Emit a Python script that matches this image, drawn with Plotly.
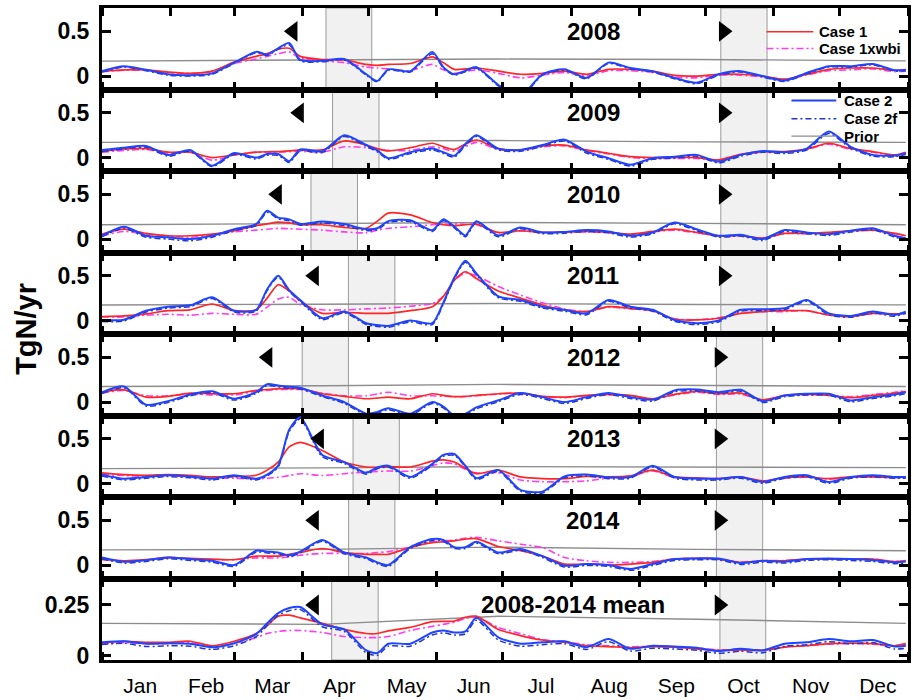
import pandas as pd
import plotly.graph_objects as go
from plotly.subplots import make_subplots

# ---------------- data ----------------
DAYS = [0, 10, 20, 30, 40, 50, 60, 70, 75, 80, 85, 90, 100, 110, 120, 125,
        130, 140, 150, 155, 160, 165, 170, 180, 190, 200, 210, 220, 230, 240,
        250, 260, 270, 280, 290, 300, 310, 320, 330, 340, 350, 360, 365]
PRIOR_DAYS = [0, 100, 180, 270, 365]
PANEL_LABELS = ["2008", "2009", "2010", "2011", "2012", "2013", "2014", "2008-2014 mean"]

CASE1 = [
    [0.055, 0.07, 0.07, 0.045, 0.03, 0.055, 0.155, 0.22, 0.25, 0.30, 0.31, 0.22, 0.185, 0.18, 0.13, 0.12,
     0.13, 0.14, 0.215, 0.15, 0.075, 0.08, 0.09, 0.055, 0.02, 0.03, 0.055, 0.02, 0.075, 0.075,
     0.055, 0.007, 0.0, 0.02, 0.02, 0.0, -0.035, 0.02, 0.075, 0.09, 0.09, 0.065, 0.07],
    [0.067, 0.096, 0.1, 0.06, 0.06, 0.0, 0.03, 0.06, 0.065, 0.067, 0.075, 0.085, 0.085, 0.185, 0.14, 0.1,
     0.074, 0.11, 0.16, 0.12, 0.09, 0.15, 0.196, 0.1, 0.085, 0.13, 0.14, 0.085, 0.048, 0.01,
     0.0, 0.0, 0.0, -0.026, 0.037, 0.067, 0.067, 0.096, 0.16, 0.1, 0.067, 0.03, 0.06],
    [0.055, 0.11, 0.063, 0.037, 0.037, 0.055, 0.093, 0.15, 0.17, 0.19, 0.18, 0.16, 0.16, 0.13, 0.12, 0.2,
     0.29, 0.27, 0.185, 0.16, 0.15, 0.16, 0.167, 0.074, 0.093, 0.074, 0.08, 0.085, 0.074, 0.055,
     0.085, 0.11, 0.074, 0.037, 0.037, 0.01, 0.063, 0.063, 0.074, 0.093, 0.1, 0.063, 0.037],
    [0.044, 0.052, 0.074, 0.11, 0.12, 0.185, 0.11, 0.12, 0.25, 0.40, 0.33, 0.22, 0.08, 0.093, 0.08, 0.08,
     0.08, 0.11, 0.155, 0.27, 0.45, 0.545, 0.47, 0.33, 0.25, 0.174, 0.12, 0.1, 0.155, 0.137,
     0.11, 0.015, 0.007, 0.026, 0.08, 0.1, 0.11, 0.11, 0.063, 0.044, 0.08, 0.074, 0.08],
    [0.11, 0.137, 0.055, 0.063, 0.1, 0.093, 0.093, 0.13, 0.14, 0.15, 0.15, 0.15, 0.093, 0.063, 0.037, 0.045,
     0.055, 0.037, 0.093, 0.075, 0.06, 0.065, 0.074, 0.093, 0.1, 0.063, 0.055, 0.074, 0.085, 0.074,
     0.037, 0.085, 0.12, 0.093, 0.1, 0.026, 0.074, 0.085, 0.074, 0.048, 0.074, 0.1, 0.12],
    [0.12, 0.1, 0.093, 0.1, 0.093, 0.074, 0.08, 0.093, 0.15, 0.24, 0.41, 0.46, 0.37, 0.24, 0.185, 0.18,
     0.19, 0.185, 0.25, 0.265, 0.24, 0.17, 0.11, 0.15, 0.074, 0.055, 0.055, 0.08, 0.074, 0.085,
     0.15, 0.074, 0.063, 0.055, 0.074, 0.03, 0.067, 0.074, 0.055, 0.074, 0.074, 0.067, 0.074],
    [0.067, 0.048, 0.06, 0.085, 0.074, 0.067, 0.06, 0.1, 0.1, 0.1, 0.12, 0.14, 0.185, 0.14, 0.12, 0.12,
     0.12, 0.196, 0.25, 0.26, 0.27, 0.29, 0.296, 0.207, 0.16, 0.1, 0.011, 0.011, 0.0, 0.011,
     0.03, 0.067, 0.074, 0.067, 0.03, 0.048, 0.048, 0.067, 0.067, 0.067, 0.067, 0.037, 0.05],
    [0.0625, 0.072, 0.067, 0.067, 0.072, 0.05, 0.072, 0.11, 0.15, 0.195, 0.2, 0.187, 0.16, 0.13, 0.11, 0.11,
     0.123, 0.14, 0.168, 0.17, 0.171, 0.19, 0.195, 0.13, 0.1, 0.078, 0.067, 0.05, 0.046, 0.04,
     0.046, 0.043, 0.035, 0.027, 0.03, 0.027, 0.043, 0.05, 0.06, 0.0625, 0.06, 0.05, 0.06],
]

CASE1XWBI = [
    [0.05, 0.065, 0.065, 0.04, 0.03, 0.05, 0.14, 0.19, 0.22, 0.25, 0.27, 0.2, 0.17, 0.15, 0.1, 0.09,
     0.08, 0.06, 0.13, 0.07, 0.03, 0.05, 0.07, 0.03, -0.02, 0.01, 0.04, 0.0, 0.06, 0.06,
     0.04, -0.01, -0.02, 0.01, 0.01, -0.01, -0.04, 0.01, 0.06, 0.07, 0.08, 0.05, 0.055],
    [0.06, 0.08, 0.09, 0.05, 0.06, -0.03, 0.03, 0.06, 0.06, 0.06, 0.065, 0.07, 0.06, 0.12, 0.11, 0.09,
     0.08, 0.08, 0.12, 0.1, 0.07, 0.12, 0.17, 0.09, 0.08, 0.12, 0.13, 0.08, 0.04, 0.0,
     -0.01, -0.01, -0.01, -0.035, 0.03, 0.06, 0.06, 0.09, 0.15, 0.09, 0.06, 0.02, 0.05],
    [0.037, 0.085, 0.055, 0.037, 0.02, 0.045, 0.08, 0.1, 0.11, 0.12, 0.115, 0.11, 0.1, 0.08, 0.07, 0.1,
     0.12, 0.137, 0.16, 0.165, 0.17, 0.165, 0.16, 0.07, 0.09, 0.07, 0.075, 0.08, 0.07, 0.05,
     0.08, 0.1, 0.07, 0.035, 0.035, 0.01, 0.06, 0.06, 0.07, 0.09, 0.095, 0.06, 0.035],
    [0.04, 0.04, 0.06, 0.07, 0.06, 0.08, 0.07, 0.07, 0.15, 0.24, 0.26, 0.18, 0.12, 0.12, 0.13, 0.135,
     0.14, 0.16, 0.19, 0.27, 0.45, 0.53, 0.5, 0.38, 0.285, 0.2, 0.13, 0.1, 0.15, 0.13,
     0.11, 0.02, 0.01, 0.03, 0.08, 0.1, 0.1, 0.11, 0.06, 0.045, 0.08, 0.07, 0.08],
    [0.1, 0.13, 0.07, 0.07, 0.09, 0.08, 0.08, 0.12, 0.13, 0.14, 0.14, 0.14, 0.1, 0.07, 0.07, 0.09,
     0.11, 0.07, 0.07, 0.065, 0.06, 0.06, 0.07, 0.09, 0.1, 0.06, 0.05, 0.07, 0.08, 0.07,
     0.03, 0.08, 0.11, 0.085, 0.09, 0.02, 0.07, 0.08, 0.075, 0.06, 0.085, 0.11, 0.13],
    [0.1, 0.09, 0.08, 0.09, 0.07, 0.06, 0.06, 0.05, 0.06, 0.07, 0.09, 0.11, 0.09, 0.11, 0.13, 0.135,
     0.14, 0.14, 0.2, 0.23, 0.22, 0.16, 0.12, 0.12, 0.04, 0.02, 0.02, 0.03, 0.06, 0.08,
     0.14, 0.07, 0.06, 0.05, 0.07, 0.025, 0.06, 0.07, 0.05, 0.07, 0.07, 0.065, 0.07],
    [0.06, 0.045, 0.055, 0.08, 0.07, 0.06, 0.06, 0.08, 0.08, 0.08, 0.09, 0.11, 0.13, 0.13, 0.13, 0.14,
     0.15, 0.2, 0.26, 0.27, 0.28, 0.3, 0.31, 0.27, 0.233, 0.196, 0.085, 0.048, 0.03, 0.03,
     0.04, 0.067, 0.074, 0.067, 0.035, 0.05, 0.05, 0.067, 0.07, 0.067, 0.067, 0.04, 0.05],
    [0.06, 0.065, 0.06, 0.06, 0.065, 0.045, 0.062, 0.09, 0.11, 0.12, 0.125, 0.125, 0.115, 0.095, 0.09, 0.09,
     0.095, 0.125, 0.145, 0.155, 0.165, 0.185, 0.19, 0.14, 0.11, 0.08, 0.07, 0.055, 0.05, 0.045,
     0.048, 0.045, 0.038, 0.03, 0.032, 0.03, 0.045, 0.05, 0.058, 0.06, 0.058, 0.05, 0.058],
]

CASE2 = [
    [0.055, 0.11, 0.07, 0.02, 0.01, 0.03, 0.15, 0.27, 0.24, 0.31, 0.37, 0.18, 0.17, 0.19, 0.02, -0.055,
     0.075, 0.055, 0.27, 0.1, 0.02, 0.06, 0.1, -0.1, -0.22, 0.02, 0.075, -0.02, 0.15, 0.09,
     0.055, -0.02, -0.075, 0.02, 0.055, 0.0, -0.05, 0.035, 0.11, 0.11, 0.135, 0.065, 0.07],
    [0.085, 0.11, 0.13, 0.03, 0.085, -0.09, 0.05, 0.0, 0.04, 0.04, -0.04, 0.09, 0.07, 0.25, 0.14, 0.08,
     -0.007, 0.06, 0.1, 0.06, 0.02, 0.15, 0.25, 0.1, 0.085, 0.14, 0.2, 0.067, -0.007, -0.08,
     -0.007, 0.01, 0.03, -0.045, 0.03, 0.074, 0.06, 0.1, 0.29, 0.12, 0.03, 0.022, 0.05],
    [0.037, 0.137, 0.037, 0.02, 0.0, 0.037, 0.11, 0.167, 0.315, 0.24, 0.22, 0.17, 0.196, 0.167, 0.11, 0.12,
     0.2, 0.21, 0.1, 0.22, 0.14, 0.04, 0.2, 0.04, 0.13, 0.074, 0.08, 0.1, 0.085, 0.037,
     0.074, 0.185, 0.11, 0.037, 0.048, 0.0, 0.1, 0.074, 0.055, 0.093, 0.12, 0.037, 0.01],
    [0.007, 0.01, 0.11, 0.155, 0.17, 0.26, 0.11, 0.12, 0.35, 0.5, 0.34, 0.23, 0.026, 0.1, -0.03, -0.05,
     -0.06, 0.0, -0.03, 0.2, 0.48, 0.667, 0.526, 0.27, 0.23, 0.155, 0.12, 0.08, 0.23, 0.155,
     0.12, 0.007, -0.03, 0.0, 0.12, 0.126, 0.137, 0.23, 0.08, 0.052, 0.1, 0.063, 0.1],
    [0.11, 0.174, -0.03, 0.01, 0.085, 0.12, 0.037, 0.11, 0.2, 0.185, 0.17, 0.16, 0.074, 0.0, -0.13, -0.11,
     -0.07, -0.13, 0.0, -0.05, -0.15, -0.13, -0.06, 0.02, 0.1, 0.055, 0.0, 0.055, 0.1, 0.055,
     0.026, 0.13, 0.14, 0.11, 0.137, 0.01, 0.074, 0.093, 0.093, 0.018, 0.055, 0.085, 0.11],
    [0.1, 0.055, 0.074, 0.093, 0.08, 0.055, 0.093, 0.055, 0.1, 0.2, 0.6, 0.74, 0.32, 0.24, 0.12, 0.18,
     0.2, 0.074, 0.22, 0.32, 0.33, 0.2, 0.06, 0.15, -0.07, -0.09, 0.08, 0.1, 0.07, 0.074,
     0.2, 0.074, 0.055, 0.055, 0.074, 0.018, 0.074, 0.093, 0.018, 0.074, 0.093, 0.074, 0.074],
    [0.085, 0.037, 0.055, 0.085, 0.067, 0.048, 0.0, 0.16, 0.15, 0.14, 0.11, 0.15, 0.28, 0.14, 0.085, 0.03,
     0.0, 0.2, 0.29, 0.28, 0.2, 0.2, 0.26, 0.14, 0.18, 0.1, -0.007, 0.011, 0.0, -0.044,
     0.011, 0.067, 0.074, 0.074, 0.022, 0.048, 0.037, 0.067, 0.074, 0.067, 0.055, 0.03, 0.04],
    [0.067, 0.072, 0.06, 0.0625, 0.06, 0.043, 0.0625, 0.107, 0.16, 0.21, 0.235, 0.24, 0.155, 0.13, 0.027, 0.014,
     0.06, 0.06, 0.115, 0.125, 0.115, 0.12, 0.187, 0.091, 0.06, 0.067, 0.072, 0.043, 0.083, 0.035,
     0.05, 0.046, 0.04, 0.024, 0.035, 0.027, 0.06, 0.067, 0.083, 0.072, 0.078, 0.046, 0.05],
]

CASE2F = [
    [0.045, 0.1, 0.06, 0.01, 0.0, 0.02, 0.14, 0.26, 0.23, 0.3, 0.35, 0.17, 0.16, 0.18, 0.01, -0.065,
     0.065, 0.045, 0.25, 0.09, 0.01, 0.05, 0.09, -0.11, -0.23, 0.01, 0.065, -0.03, 0.14, 0.08,
     0.045, -0.03, -0.085, 0.01, 0.045, -0.01, -0.06, 0.025, 0.1, 0.1, 0.125, 0.055, 0.06],
    [0.07, 0.095, 0.115, 0.015, 0.07, -0.1, 0.035, -0.015, 0.025, 0.025, -0.055, 0.075, 0.055, 0.235, 0.125, 0.065,
     -0.02, 0.045, 0.085, 0.045, 0.005, 0.135, 0.235, 0.085, 0.07, 0.125, 0.185, 0.05, -0.02, -0.095,
     -0.02, -0.005, 0.015, -0.06, 0.015, 0.06, 0.045, 0.085, 0.27, 0.105, 0.015, 0.01, 0.035],
    [0.025, 0.12, 0.02, 0.0, -0.02, 0.02, 0.095, 0.15, 0.3, 0.225, 0.205, 0.155, 0.18, 0.15, 0.095, 0.105,
     0.185, 0.195, 0.085, 0.205, 0.125, 0.025, 0.185, 0.025, 0.115, 0.06, 0.065, 0.085, 0.07, 0.022,
     0.06, 0.17, 0.095, 0.022, 0.033, -0.015, 0.085, 0.06, 0.04, 0.078, 0.105, 0.022, -0.005],
    [-0.01, -0.005, 0.095, 0.14, 0.155, 0.245, 0.095, 0.105, 0.335, 0.485, 0.325, 0.215, 0.01, 0.085, -0.045, -0.065,
     -0.075, -0.015, -0.045, 0.185, 0.465, 0.65, 0.51, 0.255, 0.215, 0.14, 0.105, 0.065, 0.215, 0.14,
     0.105, -0.008, -0.045, -0.015, 0.105, 0.11, 0.122, 0.215, 0.065, 0.037, 0.085, 0.048, 0.085],
    [0.095, 0.16, -0.045, -0.005, 0.07, 0.105, 0.022, 0.095, 0.185, 0.17, 0.155, 0.145, 0.06, -0.015, -0.145, -0.125,
     -0.085, -0.145, -0.015, -0.065, -0.165, -0.145, -0.075, 0.005, 0.085, 0.04, -0.015, 0.04, 0.085, 0.04,
     0.011, 0.115, 0.125, 0.095, 0.122, -0.005, 0.06, 0.078, 0.078, 0.003, 0.04, 0.07, 0.095],
    [0.085, 0.04, 0.06, 0.078, 0.065, 0.04, 0.078, 0.04, 0.085, 0.185, 0.58, 0.72, 0.3, 0.225, 0.105, 0.165,
     0.185, 0.06, 0.205, 0.305, 0.315, 0.185, 0.045, 0.135, -0.085, -0.105, 0.065, 0.085, 0.055, 0.06,
     0.185, 0.06, 0.04, 0.04, 0.06, 0.003, 0.06, 0.078, 0.003, 0.06, 0.078, 0.06, 0.06],
    [0.07, 0.022, 0.04, 0.07, 0.052, 0.033, -0.015, 0.145, 0.135, 0.125, 0.095, 0.135, 0.265, 0.125, 0.07, 0.015,
     -0.015, 0.185, 0.275, 0.265, 0.185, 0.185, 0.245, 0.125, 0.165, 0.085, -0.022, -0.004, -0.015, -0.059,
     -0.004, 0.052, 0.059, 0.059, 0.007, 0.033, 0.022, 0.052, 0.059, 0.052, 0.04, 0.015, 0.025],
    [0.056, 0.062, 0.046, 0.05, 0.048, 0.032, 0.05, 0.095, 0.148, 0.2, 0.222, 0.228, 0.143, 0.12, 0.015, 0.003,
     0.048, 0.048, 0.103, 0.113, 0.103, 0.108, 0.175, 0.078, 0.048, 0.055, 0.06, 0.032, 0.07, 0.024,
     0.038, 0.034, 0.028, 0.013, 0.023, 0.015, 0.048, 0.055, 0.07, 0.06, 0.066, 0.034, 0.038],
]

PRIOR = [
    [0.167, 0.178, 0.19, 0.185, 0.17],
    [0.17, 0.18, 0.19, 0.175, 0.17],
    [0.16, 0.17, 0.185, 0.175, 0.16],
    [0.174, 0.182, 0.19, 0.18, 0.175],
    [0.174, 0.182, 0.197, 0.185, 0.174],
    [0.167, 0.175, 0.19, 0.185, 0.178],
    [0.17, 0.175, 0.2, 0.175, 0.16],
    [0.16, 0.155, 0.195, 0.18, 0.16],
]

SPRING_START = [101.7, 104.7, 94.9, 111.9, 90.9, 114.0, 112.0, 104.3]
SPRING_END = [122.5, 125.8, 116.0, 133.0, 111.9, 135.0, 133.0, 125.4]
FALL_START = [281.0, 281.0, 281.0, 281.0, 279.0, 279.0, 279.0, 280.6]
FALL_END = [302.0, 302.0, 302.0, 302.0, 300.0, 300.0, 300.0, 301.4]
LEFT_MARK = [86.7, 89.6, 79.6, 96.4, 75.3, 98.7, 96.4, 96.4]
RIGHT_MARK = [282.2, 282.2, 282.2, 282.2, 280.3, 280.3, 280.3, 280.3]
MARK_LEVEL = [0.5, 0.5, 0.5, 0.5, 0.5, 0.5, 0.5, 0.25]
LABEL_DAY = [223, 223, 223, 223, 223, 223, 223, 214]
Y_TICKS = [[0, 0.5]] * 7 + [[0, 0.25]]
Y_TICKTEXT = [["0", "0.5"]] * 7 + [["0", "0.25"]]
Y_RANGES = [[-0.15, 0.76]] * 7 + [[-0.02, 0.38]]

# ---------------- styles ----------------
COL_C1 = "#ff2626"
COL_C1X = "#ff3cf0"
COL_C2 = "#1f44ff"
COL_C2F = "#2236c8"
COL_PRIOR = "#8c8c8c"
DASH_C1X = "7px,3px,2px,3px"
DASH_C2F = "6px,3px,2px,3px"
FONT = "Liberation Sans, Arial, sans-serif"

BASE = pd.Timestamp("2008-01-01")


def to_dates(days):
    return BASE + pd.to_timedelta(days, unit="D")


def to_date_str(day):
    return (BASE + pd.to_timedelta(day, unit="D")).strftime("%Y-%m-%d %H:%M:%S")


n = len(PANEL_LABELS)
fig = make_subplots(rows=n, cols=1, shared_xaxes=True, vertical_spacing=0)

xd = to_dates(DAYS)
xp = to_dates(PRIOR_DAYS)

for k in range(n):
    row = k + 1
    for arr in (CASE1[k], CASE1XWBI[k], CASE2[k], CASE2F[k]):
        assert len(arr) == len(DAYS), (k, len(arr))
    fig.add_trace(go.Scatter(x=xp, y=PRIOR[k], mode="lines", name="Prior",
                             line=dict(color=COL_PRIOR, width=1.4), showlegend=False), row=row, col=1)
    fig.add_trace(go.Scatter(x=xd, y=CASE1XWBI[k], mode="lines", name="Case 1xwbi",
                             line=dict(color=COL_C1X, width=1.6, dash=DASH_C1X, shape="spline", smoothing=0.7),
                             showlegend=False), row=row, col=1)
    fig.add_trace(go.Scatter(x=xd, y=CASE1[k], mode="lines", name="Case 1",
                             line=dict(color=COL_C1, width=1.7, shape="spline", smoothing=0.7),
                             showlegend=False), row=row, col=1)
    fig.add_trace(go.Scatter(x=xd, y=CASE2F[k], mode="lines", name="Case 2f",
                             line=dict(color=COL_C2F, width=1.5, dash=DASH_C2F, shape="spline", smoothing=0.7),
                             showlegend=False), row=row, col=1)
    fig.add_trace(go.Scatter(x=xd, y=CASE2[k], mode="lines", name="Case 2",
                             line=dict(color=COL_C2, width=2.0, shape="spline", smoothing=0.7),
                             showlegend=False), row=row, col=1)
    fig.add_trace(go.Scatter(x=to_dates([LEFT_MARK[k], RIGHT_MARK[k]]), y=[MARK_LEVEL[k], MARK_LEVEL[k]],
                             mode="markers", showlegend=False,
                             marker=dict(symbol=["triangle-left", "triangle-right"], size=18, color="black",
                                         line=dict(width=0))), row=row, col=1)

    xref = "x" if row == 1 else f"x{row}"
    yref = "y" if row == 1 else f"y{row}"
    for s0, s1 in ((SPRING_START[k], SPRING_END[k]), (FALL_START[k], FALL_END[k])):
        fig.add_shape(type="rect", xref=xref, yref=f"{yref} domain",
                      x0=to_date_str(s0), x1=to_date_str(s1), y0=0, y1=1,
                      fillcolor="#f1f1f1", line=dict(color="#9a9a9a", width=1), layer="below")
    fig.add_annotation(x=to_date_str(LABEL_DAY[k]), y=MARK_LEVEL[k], xref=xref, yref=yref,
                       text=PANEL_LABELS[k], showarrow=False,
                       font=dict(family=FONT, size=24, color="black", weight="bold"))

    fig.update_yaxes(row=row, col=1, range=Y_RANGES[k], tickmode="array", tickvals=Y_TICKS[k],
                     ticktext=Y_TICKTEXT[k], ticks="inside", ticklen=9, tickwidth=2.5, tickcolor="black",
                     showline=True, linewidth=3, linecolor="black", mirror="ticks",
                     showgrid=False, zeroline=False, ticklabelstandoff=5,
                     tickfont=dict(family=FONT, size=23, color="black", weight="bold"))
    fig.update_xaxes(row=row, col=1, type="date", range=["2008-01-01", "2009-01-01"],
                     tick0="2008-01-01", dtick="M1", tickformat="%b", ticklabelmode="period",
                     ticks="inside", ticklen=8, tickwidth=2.5, tickcolor="black",
                     showline=True, linewidth=3, linecolor="black", mirror="ticks",
                     showgrid=False, zeroline=False, ticklabelstandoff=5, ticklabelshift=4,
                     tickfont=dict(family=FONT, size=21, color="black"))

# ---------------- layout / legend ----------------
L, R, T, B = 102, 911, 8, 667
W, H = R - L, B - T


def px_x(px):
    return (px - L) / W


def px_y(py):
    return 1 - (py - T) / H


legend_items = [
    ("Case 1", COL_C1, None, 1.7, 769, 816, 820, 32),
    ("Case 1xwbi", COL_C1X, DASH_C1X, 1.6, 769, 816, 820, 49),
    ("Case 2", COL_C2, None, 2.0, 794, 839, 845, 101.5),
    ("Case 2f", COL_C2F, DASH_C2F, 1.5, 794, 839, 845, 120),
    ("Prior", COL_PRIOR, None, 1.4, 794, 839, 845, 137.5),
]
for name, col, dash, w, lx0, lx1, tx, ty in legend_items:
    ln = dict(color=col, width=w)
    if dash:
        ln["dash"] = dash
    fig.add_shape(type="line", xref="paper", yref="paper", x0=px_x(lx0), x1=px_x(lx1),
                  y0=px_y(ty), y1=px_y(ty), line=ln)
    fig.add_annotation(xref="paper", yref="paper", x=px_x(tx), y=px_y(ty), text=name,
                       showarrow=False, xanchor="left", yanchor="middle",
                       font=dict(family=FONT, size=15, color="black", weight="bold"))

fig.add_annotation(xref="paper", yref="paper", x=px_x(25), y=px_y(332), text="TgN/yr",
                   textangle=-90, showarrow=False, xanchor="center", yanchor="middle",
                   font=dict(family=FONT, size=29, color="black", weight="bold"))

fig.update_layout(width=914, height=700, margin=dict(l=L, r=914 - R, t=T, b=700 - B),
                  paper_bgcolor="white", plot_bgcolor="white", showlegend=False)

fig.write_html("out.html")
